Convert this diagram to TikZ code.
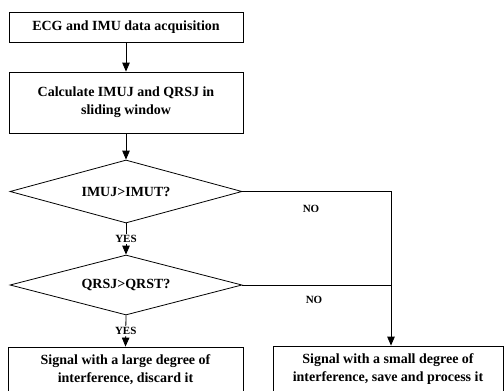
\documentclass[tikz,border=0pt]{standalone}
\usepackage{fontspec}
\setmainfont{Liberation Serif}
\usetikzlibrary{shapes.geometric,arrows.meta}
\begin{document}
\begin{tikzpicture}[x=1pt,y=-1pt,line width=0.8pt,
  box/.style={draw,rectangle,inner sep=0pt,align=center,font=\fontsize{14}{18}\selectfont\bfseries},
  dec/.style={draw,diamond,aspect=3.7,inner sep=0pt,minimum width=232pt,font=\fontsize{14}{18}\selectfont\bfseries},
  lbl/.style={inner sep=1pt,font=\fontsize{11}{13}\selectfont\bfseries},
  arr/.style={-{Triangle[length=9pt,width=7.5pt]}}]
\useasboundingbox (0,0) rectangle (504,391);
\node[box,minimum width=234pt,minimum height=30pt] (b1) at (126,27) {ECG and IMU data acquisition};
\node[box,minimum width=234pt,minimum height=61pt] (b2) at (126,102.5) {Calculate IMUJ and QRSJ in\\sliding window};
\node[dec,minimum height=63pt] (d1) at (126,191.5) {IMUJ>IMUT?};
\node[dec,minimum height=60pt] (d2) at (126,285) {QRSJ>QRST?};
\node[box,minimum width=235pt,minimum height=46pt] (b3) at (125.5,370) {Signal with a large degree of\\interference, discard it};
\node[box,minimum width=230pt,minimum height=46pt] (b4) at (388,369) {Signal with a small degree of\\interference, save and process it};
\coordinate (c1) at (391,191.5);
\draw[arr] (b1.south) -- (b2.north);
\draw[arr] (b2.south) -- (d1.north);
\draw[arr] (d1.south) -- node[lbl,fill=white] (yes1) {YES} (d2.north);
\draw[arr] (d2.south) -- node[lbl,fill=white] (yes2) {YES} (b3.north);
\draw[arr] (d1.east) -- (c1) -- (c1 |- b4.north);
\draw (d2.east) -- (c1 |- d2.east);
\node[lbl] (no1) at (311,209) {NO};
\node[lbl] (no2) at (314,300) {NO};
\end{tikzpicture}
\end{document}
